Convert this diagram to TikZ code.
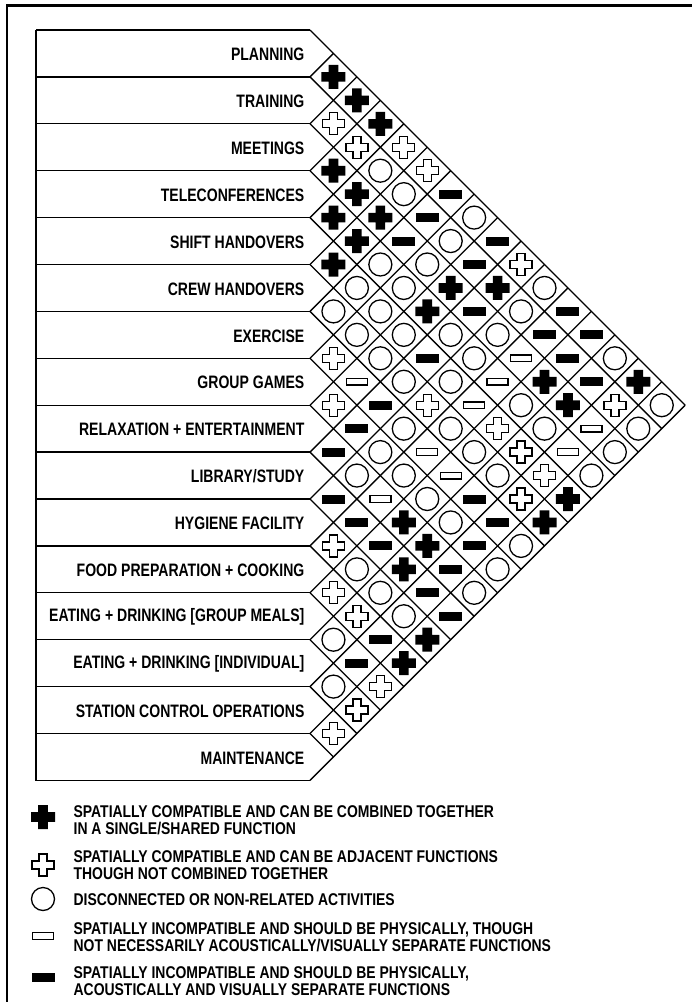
\documentclass[tikz,border=0pt]{standalone}
\usepackage{fontspec}
\setmainfont{Liberation Sans}
\newfontfamily\labfont{Liberation Sans}[FakeStretch=0.78]
\newfontfamily\keyfont{Liberation Sans}[FakeStretch=0.82]
\usepackage{tikz}

\newcommand{\rowh}{46.9}
\newcommand{\halfw}{23.45}

\tikzset{
  cellB/.pic={\fill (-4.8,-12) -- (4.8,-12) -- (4.8,-4.8) -- (12,-4.8) -- (12,4.8) -- (4.8,4.8) -- (4.8,12) -- (-4.8,12) -- (-4.8,4.8) -- (-12,4.8) -- (-12,-4.8) -- (-4.8,-4.8) -- cycle;},
  cellW/.pic={\draw[line width=1.3pt] (-4,-11) -- (4,-11) -- (4,-4) -- (11,-4) -- (11,4) -- (4,4) -- (4,11) -- (-4,11) -- (-4,4) -- (-11,4) -- (-11,-4) -- (-4,-4) -- cycle;},
  cellO/.pic={\draw[line width=1.3pt] (0,0) circle[radius=11.5pt];},
  cellM/.pic={\fill (-11.5,-4.5) rectangle (11.5,4.5);},
  cellE/.pic={\draw[line width=1.3pt] (-10.5,-3.3) rectangle (10.5,3.3);},
  lab/.style={anchor=east, inner sep=0pt, font=\labfont\bfseries\fontsize{18}{20}\selectfont},
  key/.style={anchor=west, align=left, inner sep=0pt, font=\keyfont\bfseries\fontsize{17}{16.5}\selectfont},
}

% one diagonal row of the matrix: #1 = activity, #2 = symbols
\newcommand{\cellrow}[2]{%
  \foreach \s [count=\k] in {#2}
    \pic at ({310+\k*\halfw},{30+(#1+(\k+1)/2)*\rowh}) {cell\s};}

\begin{document}
\begin{tikzpicture}[x=1pt, y=-1pt, line width=1.3pt]
  \useasboundingbox (0,0) rectangle (692,1002);
  \draw[line width=2.3pt] (692,5.5) -- (7,5.5) -- (7,1002);

  % label boxes
  \draw (36,30) -- (36,781);
  \foreach \i in {0,...,16}
    \draw (36,{30+\i*\rowh}) -- (310,{30+\i*\rowh});

  % diamond grid
  \foreach \i in {0,...,15}
    \draw (310,{30+\i*\rowh}) -- ++({(16-\i)*\halfw},{(16-\i)*\halfw});
  \foreach \i in {1,...,16}
    \draw (310,{30+\i*\rowh}) -- ++({\i*\halfw},{-\i*\halfw});

  \foreach \txt [count=\i from 0] in {PLANNING, TRAINING, MEETINGS,
      TELECONFERENCES, SHIFT HANDOVERS, CREW HANDOVERS, EXERCISE,
      GROUP GAMES, {RELAXATION + ENTERTAINMENT}, LIBRARY/STUDY,
      HYGIENE FACILITY, {FOOD PREPARATION + COOKING},
      {EATING + DRINKING [GROUP MEALS]}, {EATING + DRINKING [INDIVIDUAL]},
      STATION CONTROL OPERATIONS, MAINTENANCE}
    \node[lab] (l\i) at (305,{31+(\i+0.5)*\rowh}) {\txt};

  \cellrow{0}{B,B,B,W,W,M,O,M,W,O,M,M,O,B,O}
  \cellrow{1}{W,W,O,O,M,O,M,B,O,M,M,M,W,O}
  \cellrow{2}{B,B,B,M,O,B,M,O,E,B,B,E,O}
  \cellrow{3}{B,B,O,O,B,O,O,E,O,O,E,O}
  \cellrow{4}{B,O,O,O,M,O,E,W,W,W,B}
  \cellrow{5}{O,O,O,O,W,O,O,O,W,B}
  \cellrow{6}{W,E,M,O,E,E,M,M,O}
  \cellrow{7}{W,M,O,O,O,O,M,O}
  \cellrow{8}{M,O,E,B,B,M,O}
  \cellrow{9}{M,M,M,B,M,M}
  \cellrow{10}{W,O,O,O,B}
  \cellrow{11}{W,W,M,B}
  \cellrow{12}{O,M,W}
  \cellrow{13}{O,W}
  \cellrow{14}{W}

  % key
  \pic at (43,817) {cellB};
  \node[key] (k1) at (73,820) {SPATIALLY COMPATIBLE AND CAN BE COMBINED TOGETHER\\IN A SINGLE/SHARED FUNCTION};
  \pic at (43,865) {cellW};
  \node[key] (k2) at (73,865) {SPATIALLY COMPATIBLE AND CAN BE ADJACENT FUNCTIONS\\THOUGH NOT COMBINED TOGETHER};
  \pic at (43,899) {cellO};
  \node[key] (k3) at (73,900) {DISCONNECTED OR NON-RELATED ACTIVITIES};
  \pic at (43,936) {cellE};
  \node[key] (k4) at (73,937) {SPATIALLY INCOMPATIBLE AND SHOULD BE PHYSICALLY, THOUGH\\NOT NECESSARILY ACOUSTICALLY/VISUALLY SEPARATE FUNCTIONS};
  \pic at (43,977) {cellM};
  \node[key] (k5) at (73,981) {SPATIALLY INCOMPATIBLE AND SHOULD BE PHYSICALLY,\\ACOUSTICALLY AND VISUALLY SEPARATE FUNCTIONS};
\end{tikzpicture}
\end{document}
